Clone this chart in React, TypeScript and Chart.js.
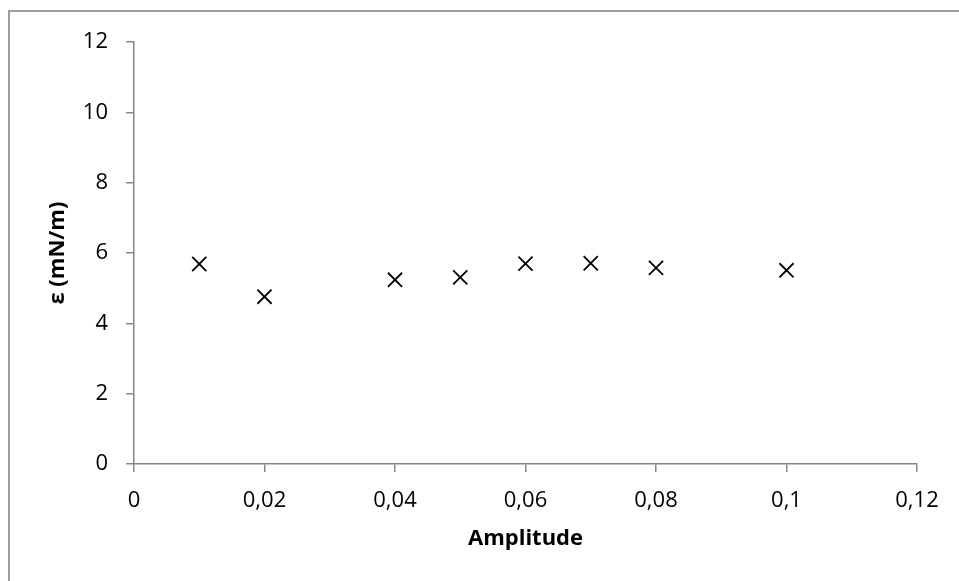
import React, { useEffect, useRef } from "react";
import { Chart, registerables } from "chart.js";

Chart.register(...registerables);

const amplitudes = [0.01, 0.02, 0.04, 0.05, 0.06, 0.07, 0.08, 0.1];
const epsilonValues = [5.69, 4.76, 5.24, 5.31, 5.7, 5.71, 5.58, 5.51];
const xTicks = [0, 0.02, 0.04, 0.06, 0.08, 0.1, 0.12];
const yTicks = [0, 2, 4, 6, 8, 10, 12];
const xTitle = "Amplitude";
const yTitle = "ε (mN/m)";

const FONT = "'Open Sans', 'Liberation Sans', sans-serif";
const AXIS = "#868686";

export default function App() {
  const ref = useRef<HTMLCanvasElement | null>(null);

  useEffect(() => {
    if (!ref.current) return;
    const chart = new Chart(ref.current, {
      type: "scatter",
      data: {
        datasets: [
          {
            data: amplitudes.map((x, i) => ({ x, y: epsilonValues[i] })),
            pointStyle: "crossRot",
            radius: 10,
            hoverRadius: 10,
            borderColor: "#000000",
            backgroundColor: "#000000",
            borderWidth: 1.8,
            showLine: false,
          },
        ],
      },
      options: {
        animation: false,
        responsive: false,
        maintainAspectRatio: false,
        layout: { padding: { left: 0, top: 29, right: 42, bottom: 0 } },
        plugins: { legend: { display: false }, tooltip: { enabled: false } },
        scales: {
          x: {
            type: "linear",
            min: xTicks[0],
            max: xTicks[xTicks.length - 1],
            afterFit: (s: any) => {
              s.height = 117;
            },
            afterBuildTicks: (s: any) => {
              s.ticks = xTicks.map((v) => ({ value: v }));
            },
            grid: {
              drawOnChartArea: false,
              drawTicks: true,
              tickLength: 8,
              color: AXIS,
              lineWidth: 1.5,
            },
            border: { display: true, color: AXIS, width: 1.5 },
            ticks: {
              color: "#000000",
              padding: 16,
              maxRotation: 0,
              autoSkip: false,
              font: { family: FONT, size: 22 },
              callback: (v: any) => String(Math.round(Number(v) * 100) / 100).replace(".", ","),
            },
            title: {
              display: true,
              text: xTitle,
              color: "#000000",
              font: { family: FONT, size: 22, weight: "bold" },
              padding: { top: 0, bottom: 29 },
            },
          },
          y: {
            type: "linear",
            min: yTicks[0],
            max: yTicks[yTicks.length - 1],
            afterFit: (s: any) => {
              s.width = 125;
            },
            afterBuildTicks: (s: any) => {
              s.ticks = yTicks.map((v) => ({ value: v }));
            },
            grid: {
              drawOnChartArea: false,
              drawTicks: true,
              tickLength: 8,
              color: AXIS,
              lineWidth: 1.5,
            },
            border: { display: true, color: AXIS, width: 1.5 },
            ticks: {
              color: "#000000",
              padding: 18,
              autoSkip: false,
              font: { family: FONT, size: 22 },
              callback: (v: any) => String(v),
            },
            title: {
              display: true,
              text: yTitle,
              color: "#000000",
              font: { family: FONT, size: 22, weight: "bold" },
              padding: { top: 36, bottom: 0 },
            },
          },
        },
      },
    });
    return () => chart.destroy();
  }, []);

  return (
    <div
      style={{
        position: "fixed",
        left: 8,
        top: 10,
        width: 951,
        height: 571,
        borderLeft: "2px solid #9d9d9d",
        borderTop: "2px solid #9d9d9d",
        background: "#ffffff",
        boxSizing: "border-box",
      }}
    >
      <canvas
        ref={ref}
        width={950}
        height={570}
        style={{ position: "absolute", left: -1, top: -1, width: 950, height: 570 }}
      />
    </div>
  );
}
